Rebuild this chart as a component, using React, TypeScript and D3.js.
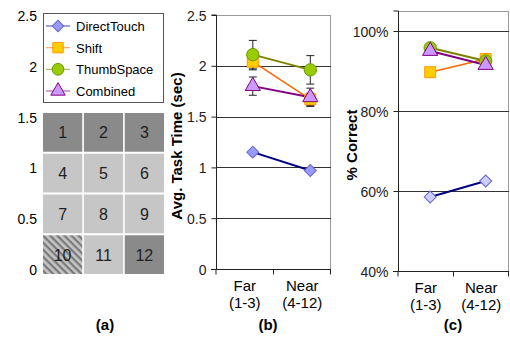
import React, { useEffect, useRef } from 'react';
import * as d3 from 'd3';

const categories = ['Far', 'Near'];
const categoryRanges = ['(1-3)', '(4-12)'];
const seriesNames = ['DirectTouch', 'Shift', 'ThumbSpace', 'Combined'];

// avg task time (sec)
const timeDirectTouch = [1.15, 0.97];
const timeShift = [2.04, 1.67];
const timeThumbSpace = [2.11, 1.96];
const timeCombined = [1.8, 1.69];
const errShift = [0.08, 0.06];
const errThumbSpace = [0.14, 0.14];
const errCombined = [0.09, 0.09];

// % correct
const pctDirectTouch = [58.5, 62.5];
const pctShift = [89.7, 93.0];
const pctThumbSpace = [95.8, 92.5];
const pctCombined = [95.0, 91.5];

const timeTicks = [0, 0.5, 1, 1.5, 2, 2.5];
const pctTicks = [40, 60, 80, 100];

const cellNumbers = [1, 2, 3, 4, 5, 6, 7, 8, 9, 10, 11, 12];
const cellShades = ['dark', 'dark', 'dark', 'light', 'light', 'light', 'light', 'light', 'light', 'hatch', 'light', 'dark'];

const FONT = 'Arial, "Liberation Sans", sans-serif';

const styles: any = {
  DirectTouch: { line: '#000080', fill: '#9999ff', fillC: '#ccccff', stroke: '#6666cc', shape: d3.symbolSquare, size: 72, rot: 45 },
  Shift: { line: '#ff6600', fill: '#ffcc00', fillC: '#ffcc00', stroke: '#ff9900', shape: d3.symbolSquare, size: 120, rot: 0 },
  ThumbSpace: { line: '#808000', fill: '#99cc00', fillC: '#99cc00', stroke: '#669900', shape: d3.symbolCircle, size: 120, rot: 0 },
  Combined: { line: '#800080', fill: '#cc99ff', fillC: '#cc99ff', stroke: '#800080', shape: d3.symbolTriangle, size: 100, rot: 0 },
};

export default function App() {
  const ref = useRef<SVGSVGElement>(null);

  useEffect(() => {
    const svg = d3.select(ref.current);
    svg.selectAll('*').remove();

    const defs = svg.append('defs');
    const pat = defs.append('pattern')
      .attr('id', 'hatch')
      .attr('patternUnits', 'userSpaceOnUse')
      .attr('width', 5)
      .attr('height', 5)
      .attr('patternTransform', 'rotate(45)');
    pat.append('rect').attr('width', 5).attr('height', 5).attr('fill', '#c4c4c4');
    pat.append('rect').attr('width', 5).attr('height', 2.2).attr('fill', '#7a7a7a');

    // ---------- panel (a) ----------
    const yA = d3.scaleLinear().domain([0, 2.5]).range([270, 16]);
    svg.append('g').selectAll('text')
      .data(timeTicks)
      .enter()
      .append('text')
      .attr('x', 37)
      .attr('y', d => yA(d) + 5)
      .attr('text-anchor', 'end')
      .style('font', `14px ${FONT}`)
      .text(d => String(d));

    // legend
    const legend = svg.append('g');
    legend.append('rect')
      .attr('x', 43.5).attr('y', 13.5).attr('width', 120).attr('height', 89)
      .attr('fill', 'white').attr('stroke', '#555');
    const legY = d3.scalePoint().domain(seriesNames).range([26, 91]);
    seriesNames.forEach(name => {
      const s = styles[name];
      const g = legend.append('g').attr('transform', `translate(0,${legY(name)})`);
      g.append('line').attr('x1', 46).attr('x2', 70).attr('y1', 0).attr('y2', 0)
        .attr('stroke', s.line).attr('stroke-width', 1.2).attr('opacity', 0.6);
      g.append('path').attr('d', d3.symbol().type(s.shape).size(s.size * 0.9)())
        .attr('transform', `translate(58,0) rotate(${s.rot})`)
        .attr('fill', s.fill).attr('stroke', s.stroke);
      g.append('text').attr('x', 76).attr('y', 5)
        .style('font', `13px ${FONT}`).text(name);
    });

    // grid of targets
    const gx = d3.scaleBand().domain(['0', '1', '2']).range([43, 164]).paddingInner(0.04);
    const gy = d3.scaleBand().domain(['0', '1', '2', '3']).range([113, 274]).paddingInner(0.05);
    const cells = svg.append('g').selectAll('g')
      .data(cellNumbers)
      .enter()
      .append('g');
    cells.append('rect')
      .attr('x', (d, i) => gx(String(i % 3)))
      .attr('y', (d, i) => gy(String(Math.floor(i / 3))))
      .attr('width', gx.bandwidth())
      .attr('height', gy.bandwidth())
      .attr('fill', (d, i) => cellShades[i] === 'dark' ? '#8a8a8a' : cellShades[i] === 'hatch' ? 'url(#hatch)' : '#c6c6c6');
    cells.append('text')
      .attr('x', (d, i) => gx(String(i % 3)) + gx.bandwidth() / 2)
      .attr('y', (d, i) => gy(String(Math.floor(i / 3))) + gy.bandwidth() / 2 + 6)
      .attr('text-anchor', 'middle')
      .attr('fill', '#222')
      .style('font', `16px ${FONT}`)
      .text(d => String(d));

    // ---------- shared line panel ----------
    function drawPanel(opts: any) {
      const { left, right, top, bottom, domain, ticks, fmt, grid, title, titleX, data, errs, fillKey, frac, label, labelX } = opts;
      const g = svg.append('g');
      const x = d3.scaleBand().domain(categories).range([left, right]);
      const y = d3.scaleLinear().domain(domain).range([bottom, top]);
      const px = (i: number) => x(categories[i]) + x.bandwidth() * frac;

      // frame
      g.append('line').attr('x1', left).attr('x2', right).attr('y1', top + 0.5).attr('y2', top + 0.5).attr('stroke', '#999');
      g.append('line').attr('x1', right - 0.5).attr('x2', right - 0.5).attr('y1', top).attr('y2', bottom).attr('stroke', '#999');

      // gridlines
      g.append('g').selectAll('line')
        .data(grid)
        .enter()
        .append('line')
        .attr('x1', left).attr('x2', right)
        .attr('y1', (d: number) => Math.round(y(d)) + 0.5)
        .attr('y2', (d: number) => Math.round(y(d)) + 0.5)
        .attr('stroke', '#333');

      // y axis
      const yAxis = d3.axisLeft(y).tickValues(ticks).tickSize(5).tickFormat(fmt);
      const ya = g.append('g').attr('transform', `translate(${left + 0.5},0)`);
      yAxis(ya);
      ya.select('path').attr('stroke', '#222').attr('d', `M-5,${top}H0V${bottom}`);
      ya.selectAll('line').attr('stroke', '#222');
      ya.selectAll('text').style('font', `14px ${FONT}`).attr('fill', '#222').attr('dy', '0.36em').attr('x', -10);

      // x axis
      const xa = g.append('g').attr('transform', `translate(0,${bottom + 0.5})`);
      xa.append('line').attr('x1', left - 5).attr('x2', right).attr('stroke', '#222');
      xa.selectAll('.tk')
        .data([left, x('Near'), right - 0.5])
        .enter()
        .append('line')
        .attr('x1', (d: number) => d).attr('x2', (d: number) => d)
        .attr('y1', 0).attr('y2', 5)
        .attr('stroke', '#222');
      categories.forEach((c, i) => {
        const cx = x(c) + x.bandwidth() / 2;
        xa.append('text').attr('x', cx).attr('y', 21).attr('text-anchor', 'middle')
          .style('font', `15px ${FONT}`).text(c);
        xa.append('text').attr('x', cx).attr('y', 38).attr('text-anchor', 'middle')
          .style('font', `15px ${FONT}`).text(categoryRanges[i]);
      });

      // y title
      g.append('text')
        .attr('transform', `translate(${titleX},${(top + bottom) / 2 + 4}) rotate(-90)`)
        .attr('text-anchor', 'middle')
        .style('font', `bold 15px ${FONT}`)
        .text(title);

      // error bars
      errs.forEach((e: any) => {
        if (!e) return;
        e.err.forEach((v: number, i: number) => {
          const cx = px(i);
          const y1 = y(e.vals[i] + v), y2 = y(e.vals[i] - v);
          g.append('line').attr('x1', cx).attr('x2', cx).attr('y1', y1).attr('y2', y2).attr('stroke', '#222');
          [y1, y2].forEach(yy => g.append('line').attr('x1', cx - 4).attr('x2', cx + 4).attr('y1', yy).attr('y2', yy).attr('stroke', '#222'));
        });
      });

      // series
      const line = d3.line<number>().x((d, i) => px(i)).y(d => y(d));
      data.forEach((vals: number[], k: number) => {
        const s = styles[seriesNames[k]];
        g.append('path').attr('d', line(vals)).attr('fill', 'none')
          .attr('stroke', s.line).attr('stroke-width', seriesNames[k] === 'Shift' ? 1.5 : 2);
      });
      data.forEach((vals: number[], k: number) => {
        const s = styles[seriesNames[k]];
        g.append('g').selectAll('path')
          .data(vals)
          .enter()
          .append('path')
          .attr('d', d3.symbol().type(s.shape).size(s.size)())
          .attr('transform', (d: number, i: number) => `translate(${px(i)},${y(d)}) rotate(${s.rot})`)
          .attr('fill', s[fillKey]).attr('stroke', s.stroke);
      });

      // panel label
      svg.append('text').attr('x', labelX).attr('y', 330).attr('text-anchor', 'middle')
        .style('font', `bold 15px ${FONT}`).text(label);
    }

    drawPanel({
      left: 216, right: 331, top: 15, bottom: 269,
      domain: [0, 2.5], ticks: timeTicks, fmt: (d: number) => String(d), grid: [0.5, 1, 1.5, 2],
      title: 'Avg. Task Time (sec)', titleX: 182,
      data: [timeDirectTouch, timeShift, timeThumbSpace, timeCombined],
      errs: [null, { vals: timeShift, err: errShift }, { vals: timeThumbSpace, err: errThumbSpace }, { vals: timeCombined, err: errCombined }],
      fillKey: 'fill', frac: 0.64, label: '(b)', labelX: 268,
    });

    drawPanel({
      left: 398, right: 509, top: 11, bottom: 271,
      domain: [40, 105], ticks: pctTicks, fmt: (d: number) => d + '%', grid: [60, 80, 100],
      title: '% Correct', titleX: 357,
      data: [pctDirectTouch, pctShift, pctThumbSpace, pctCombined],
      errs: [],
      fillKey: 'fillC', frac: 0.58, label: '(c)', labelX: 453,
    });

    svg.append('text').attr('x', 105).attr('y', 330).attr('text-anchor', 'middle')
      .style('font', `bold 15px ${FONT}`).text('(a)');
  }, []);

  return (
    <svg ref={ref} width={510} height={337}
      style={{ position: 'absolute', left: 0, top: 0, background: 'white' }} />
  );
}
